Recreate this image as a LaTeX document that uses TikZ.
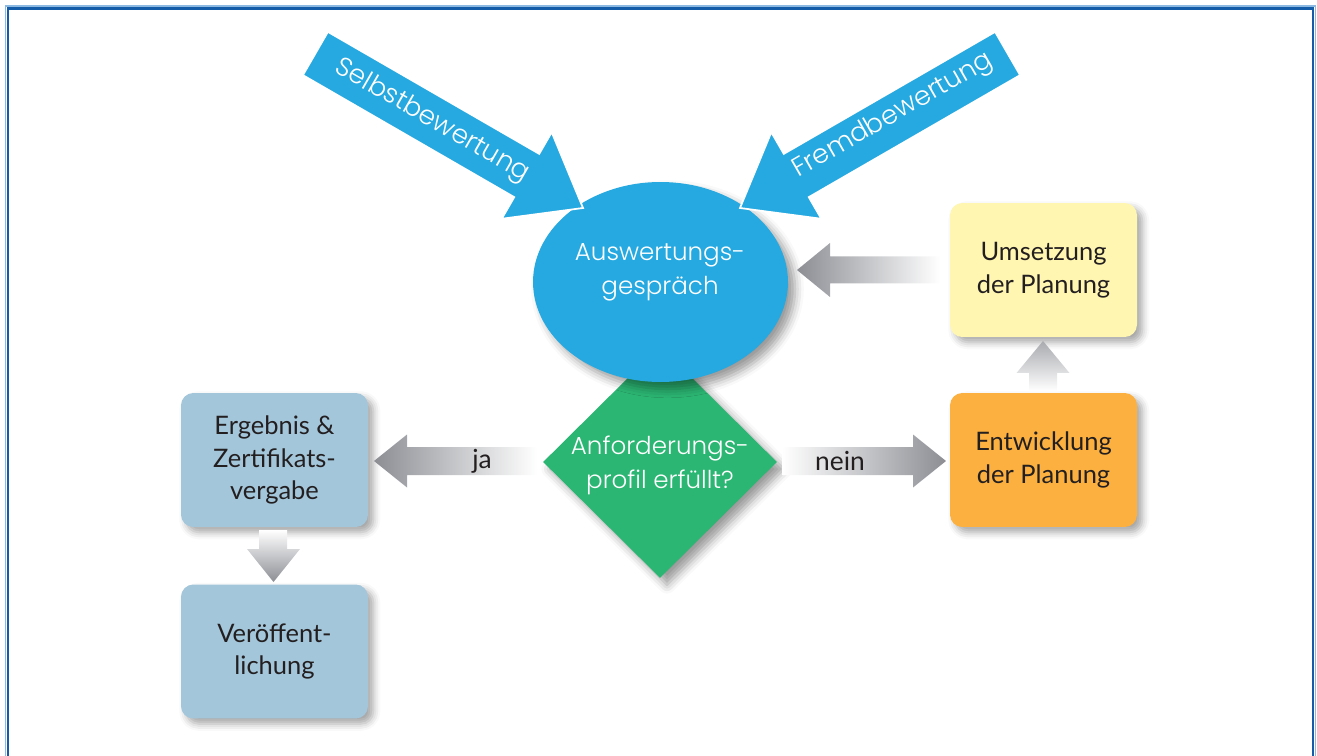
\documentclass[tikz,border=0pt]{standalone}
\usepackage{fontspec}
\setmainfont{Lato}
\IfFontExistsTF{Poppins Light}{\newfontfamily\thinfont{Poppins Light}}{\newfontfamily\thinfont{Poppins}}
\usetikzlibrary{shapes.geometric,shadows.blur}
\definecolor{skyblue}{RGB}{38,169,224}
\definecolor{frameblue}{RGB}{20,92,168}
\definecolor{framelight}{RGB}{140,185,225}
\definecolor{dgreen}{RGB}{44,182,115}
\definecolor{lyellow}{RGB}{255,246,178}
\definecolor{orangebox}{RGB}{251,176,64}
\definecolor{greyblue}{RGB}{163,198,218}
\definecolor{arrowgrey}{RGB}{140,142,148}
\definecolor{txt}{RGB}{35,31,32}
\begin{document}
\begin{tikzpicture}[x=0.02cm,y=-0.02cm,
  softshadow/.style={blur shadow={shadow xshift=3pt,shadow yshift=-3pt,shadow blur radius=4pt,shadow opacity=35}},
  box/.style={rectangle,rounded corners=7pt,minimum width=3.74cm,minimum height=2.68cm,
    align=center,text=txt,inner sep=0pt,font=\fontsize{14.5}{18.7}\selectfont,softshadow},
  whitetext/.style={text=white,align=center,font=\thinfont\fontsize{14}{19.3}\selectfont},
  bigarrow/.style={fill=skyblue,draw=white,line width=1pt,line join=miter},
  lbl/.style={text=txt,font=\fontsize{15}{18}\selectfont,inner sep=0pt}]
\useasboundingbox (0,0) rectangle (1317,756);
% frame
\draw[framelight,line width=0.8pt] (5.5,6) rectangle (1315.5,770);
\draw[frameblue,line width=1.5pt] (8,8.5) rectangle (1313,770);

% decision diamond
\node[diamond,fill=dgreen,minimum width=4.68cm,minimum height=4.64cm,inner sep=0pt,
  blur shadow={shadow xshift=4pt,shadow yshift=-4pt,shadow blur radius=5pt,shadow opacity=40}] (dec) at (660,462) {};
% evaluation circle
\node[ellipse,fill=skyblue,minimum width=5.1cm,minimum height=4cm,inner sep=0pt,
  blur shadow={shadow xshift=4pt,shadow yshift=-4pt,shadow blur radius=5pt,shadow opacity=40}] (ausw) at (660.5,282) {};
\node[whitetext] (auswtext) at (660,272) {Auswertungs-\\gespräch};
\node[whitetext] (dectext) at (660,465) {Anforderungs-\\profil erfüllt?};

% big blue arrows
\path[bigarrow] (327.9,31.85) -- (539.2,153.85) -- (551.7,132.2) -- (583,208)
  -- (501.7,218.8) -- (514.2,197.15) -- (302.9,75.15) -- cycle;
\node[text=white,rotate=-30,font=\thinfont\fontsize{15}{18}\selectfont] (selbst) at (432,121) {Selbstbewertung};
\path[bigarrow] (995.1,31.85) -- (783.8,153.85) -- (771.3,132.2) -- (740,208)
  -- (821.3,218.8) -- (808.8,197.15) -- (1020.1,75.15) -- cycle;
\node[text=white,rotate=30,font=\thinfont\fontsize{15}{18}\selectfont] (fremd) at (893,116) {Fremdbewertung};

% boxes
\node[box,fill=lyellow] (umsetz) at (1043.5,270) {Umsetzung\\der Planung};
\node[box,fill=orangebox] (entw) at (1043.5,460) {Entwicklung\\der Planung};
\node[box,fill=greyblue] (ergeb) at (274.5,460) {Ergebnis \&\\Zertifikats-\\vergabe};
\node[box,fill=greyblue] (veroeff) at (274.5,651.5) {Veröffent-\\lichung};

% grey connector arrows
\shade[left color=arrowgrey,right color=white] (797,270) -- (830,243) -- (830,256.5) -- (940,256.5)
  -- (940,283.5) -- (830,283.5) -- (830,297) -- cycle;
\shade[left color=arrowgrey,right color=white] (374,461) -- (407,434.5) -- (407,447) -- (537,447)
  -- (537,475) -- (407,475) -- (407,487.5) -- cycle;
\node[lbl] (ja) at (482,461) {ja};
\shade[left color=white,right color=arrowgrey] (782,447) -- (913,447) -- (913,434.5) -- (946,461)
  -- (913,487.5) -- (913,475) -- (782,475) -- cycle;
\node[lbl] (nein) at (840,461) {nein};
\shade[top color=arrowgrey!75,bottom color=white] (1043,341) -- (1069.5,373) -- (1057,373) -- (1057,391)
  -- (1029,391) -- (1029,373) -- (1016.5,373) -- cycle;
\shade[top color=white,bottom color=arrowgrey] (259,530) -- (287,530) -- (287,549) -- (300,549)
  -- (273.5,582) -- (247,549) -- (259,549) -- cycle;
\end{tikzpicture}
\end{document}
